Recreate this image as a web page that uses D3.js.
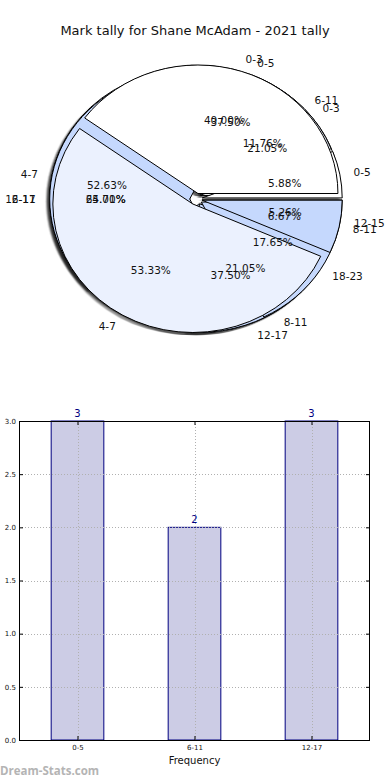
<!DOCTYPE html>
<html>
<head>
<meta charset="utf-8">
<script src="https://cdn.jsdelivr.net/npm/d3@7"></script>
<style>
  body { margin: 0; background: #fff; }
  svg { display: block; font-family: "DejaVu Sans", sans-serif; }
</style>
</head>
<body>
<div id="chart"></div>
<script>
// pies left over on the same axes, drawn bottom to top
var pieALabels = ["0-5", "6-11", "12-17"];
var pieAValues = [3, 2, 3];
var pieDLabels = ["0-3", "4-7", "8-11", "12-15"];
var pieDValues = [4, 10, 4, 1];
var pieCLabels = ["0-5", "6-11", "12-17", "18-23"];
var pieCValues = [1, 2, 11, 3];
var pieBLabels = ["0-3", "4-7", "8-11"];
var pieBValues = [6, 8, 1];

// bar chart
var barCategories = ["0-5", "6-11", "12-17"];
var barValues = [3, 2, 3];
var yTicks = [0, 0.5, 1, 1.5, 2, 2.5, 3];

var title = "Mark tally for Shane McAdam - 2021 tally";

function drawChart() {
    var width = 390, height = 780;
    var svg = d3.select("#chart").append("svg")
        .attr("width", width)
        .attr("height", height);

    svg.append("rect").attr("width", width).attr("height", height).attr("fill", "#fff");

    // title
    svg.append("text")
        .attr("x", 195).attr("y", 35)
        .attr("text-anchor", "middle")
        .attr("font-size", "13px")
        .attr("fill", "#111")
        .text(title);

    // ---------- pie ----------
    var cx = 196, cy = 199, rx = 140, ry = 128.5, explode = 0.045;
    var colors = ["#ffffff", "#ebf1fe", "#c5d8fd", "#c5d8fd"];

    var pies = [
        { labels: pieALabels, values: pieAValues },
        { labels: pieDLabels, values: pieDValues },
        { labels: pieCLabels, values: pieCValues },
        { labels: pieBLabels, values: pieBValues }
    ];

    // matplotlib goes counterclockwise from 3 o'clock
    var pie = d3.pie().sort(null)
        .startAngle(Math.PI / 2)
        .endAngle(Math.PI / 2 - 2 * Math.PI);
    var arc = d3.arc().innerRadius(0).outerRadius(rx);

    var defs = svg.append("defs");
    defs.append("filter").attr("id", "blur")
        .append("feGaussianBlur").attr("stdDeviation", 0.8);

    var shadowLayer = svg.append("g");
    var wedgeLayer = svg.append("g");
    var textLayer = svg.append("g");

    pies.forEach(function (p) {
        var arcs = pie(p.values);
        arcs.forEach(function (d, i) {
            var theta = Math.PI / 2 - (d.startAngle + d.endAngle) / 2;
            var c = Math.cos(theta), s = Math.sin(theta);
            var ox = cx + explode * rx * c, oy = cy - explode * ry * s;

            shadowLayer.append("g")
                .attr("transform", "translate(" + (ox - 2.8) + "," + (oy + 2.6) + ") scale(1," + (ry / rx) + ")")
                .append("path")
                .attr("d", arc(d))
                .attr("fill", "#000")
                .attr("fill-opacity", 0.4)
                .attr("filter", "url(#blur)");

            wedgeLayer.append("g")
                .attr("transform", "translate(" + ox + "," + oy + ") scale(1," + (ry / rx) + ")")
                .append("path")
                .attr("d", arc(d))
                .attr("fill", colors[i % colors.length])
                .attr("stroke", "#000")
                .attr("stroke-width", 1)
                .attr("stroke-linejoin", "round")
                .attr("vector-effect", "non-scaling-stroke");

            var pct = (100 * p.values[i] / d3.sum(p.values)).toFixed(2) + "%";
            textLayer.append("text")
                .attr("x", ox + 0.6 * rx * c)
                .attr("y", oy - 0.6 * ry * s)
                .attr("text-anchor", "middle")
                .attr("dy", "0.35em")
                .attr("font-size", "10.5px")
                .attr("fill", "#111")
                .text(pct);

            textLayer.append("text")
                .attr("x", ox + 1.1 * rx * c)
                .attr("y", oy - 1.1 * ry * s)
                .attr("text-anchor", c > 0 ? "start" : "end")
                .attr("dy", "0.35em")
                .attr("font-size", "10.5px")
                .attr("fill", "#111")
                .text(p.labels[i]);
        });
    });

    // ---------- bar chart ----------
    var plotLeft = 19, plotRight = 370, plotTop = 421, plotBottom = 740;
    var x = d3.scaleLinear().domain([-0.5, 2.5]).range([plotLeft, plotRight]);
    var y = d3.scaleLinear().domain([0, 3]).range([plotBottom, plotTop]);
    var barWidth = 0.45;

    svg.append("g").selectAll("rect")
        .data(barValues)
        .enter().append("rect")
        .attr("x", function (d, i) { return x(i - barWidth / 2); })
        .attr("width", function () { return x(barWidth) - x(0); })
        .attr("y", function (d) { return y(d); })
        .attr("height", function (d) { return plotBottom - y(d); })
        .attr("fill", "#cccce5")
        .attr("stroke", "#000080")
        .attr("stroke-width", 1);

    // grid
    var grid = svg.append("g")
        .attr("stroke", "#b0b0b0")
        .attr("stroke-width", 1)
        .attr("stroke-dasharray", "1,2");
    grid.selectAll(".gy").data(yTicks).enter().append("line")
        .attr("x1", plotLeft).attr("x2", plotRight)
        .attr("y1", function (d) { return Math.round(y(d)) + 0.5; })
        .attr("y2", function (d) { return Math.round(y(d)) + 0.5; });
    grid.selectAll(".gx").data(barCategories).enter().append("line")
        .attr("x1", function (d, i) { return Math.round(x(i)) + 0.5; })
        .attr("x2", function (d, i) { return Math.round(x(i)) + 0.5; })
        .attr("y1", plotTop).attr("y2", plotBottom);

    // value labels
    svg.append("g").selectAll("text")
        .data(barValues)
        .enter().append("text")
        .attr("x", function (d, i) { return x(i); })
        .attr("y", function (d) { return y(d) - 4; })
        .attr("text-anchor", "middle")
        .attr("font-size", "10px")
        .attr("fill", "#000080")
        .text(function (d) { return d; });

    // axes: ticks inward on all sides, labels left and bottom
    var yAxisG = svg.append("g")
        .attr("transform", "translate(" + plotLeft + ",0)")
        .call(d3.axisLeft(y).tickValues(yTicks).tickSize(-4).tickPadding(3)
            .tickFormat(d3.format(".1f")));
    yAxisG.select(".domain").remove();
    yAxisG.selectAll("text").attr("font-size", "7px").attr("fill", "#111").attr("font-family", "DejaVu Sans");

    var yAxisR = svg.append("g")
        .attr("transform", "translate(" + plotRight + ",0)")
        .call(d3.axisRight(y).tickValues(yTicks).tickSize(-4).tickFormat(""));
    yAxisR.select(".domain").remove();

    var xAxisG = svg.append("g")
        .attr("transform", "translate(0," + plotBottom + ")")
        .call(d3.axisBottom(x).tickValues([0, 1, 2]).tickSize(-4).tickPadding(5)
            .tickFormat(function (d) { return barCategories[d]; }));
    xAxisG.select(".domain").remove();
    xAxisG.selectAll("text").attr("font-size", "7px").attr("fill", "#111").attr("font-family", "DejaVu Sans");

    var xAxisT = svg.append("g")
        .attr("transform", "translate(0," + plotTop + ")")
        .call(d3.axisTop(x).tickValues([0, 1, 2]).tickSize(-4).tickFormat(""));
    xAxisT.select(".domain").remove();

    // frame
    svg.append("rect")
        .attr("x", plotLeft + 0.5).attr("y", plotTop + 0.5)
        .attr("width", plotRight - plotLeft - 1).attr("height", plotBottom - plotTop)
        .attr("fill", "none")
        .attr("stroke", "#000")
        .attr("stroke-width", 1);

    svg.append("text")
        .attr("x", x(1)).attr("y", 764)
        .attr("text-anchor", "middle")
        .attr("font-size", "10px")
        .attr("fill", "#111")
        .text("Frequency");

    // watermark
    svg.append("text")
        .attr("x", 0).attr("y", 775)
        .attr("font-size", "11.5px")
        .attr("font-weight", "bold")
        .attr("font-family", "'Open Sans', sans-serif")
        .attr("fill", "#b4b4b4")
        .text("Dream-Stats.com");
}

drawChart();
</script>
</body>
</html>
